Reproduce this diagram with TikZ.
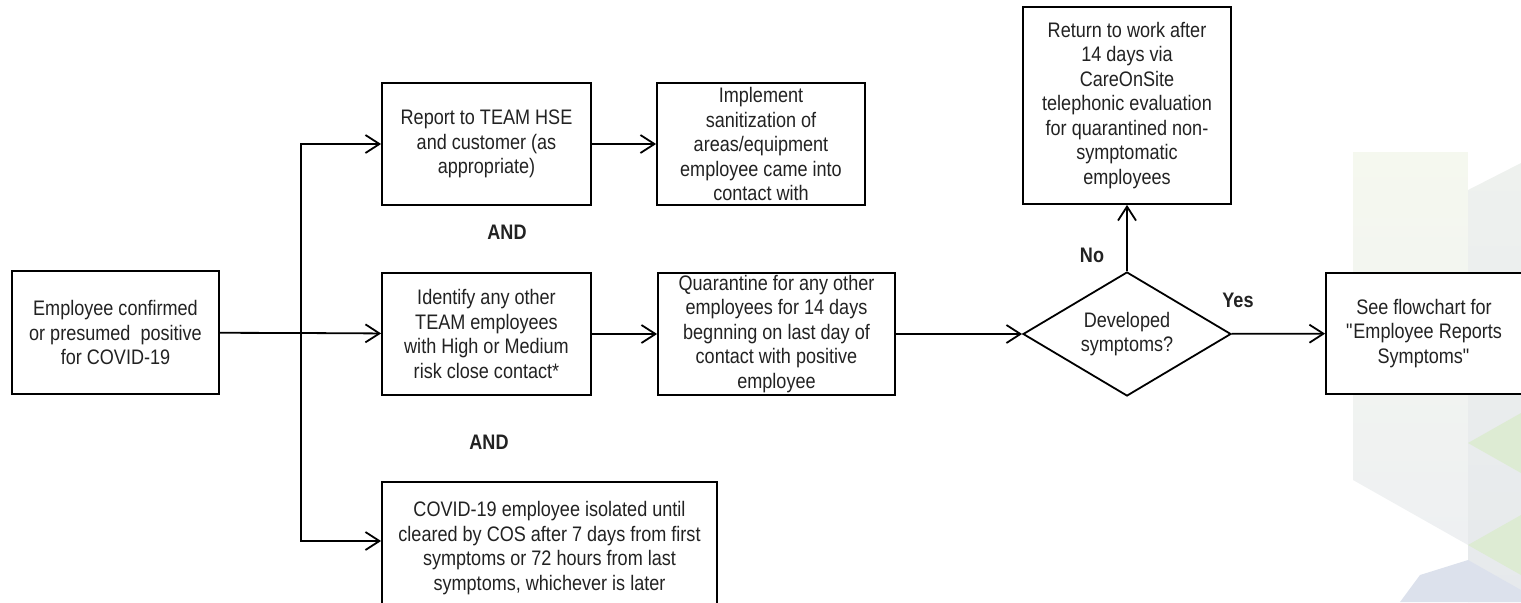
\documentclass[tikz,border=0pt]{standalone}
\usepackage{fontspec}
\setmainfont{Liberation Sans}[FakeStretch=0.86]
\usetikzlibrary{shapes.geometric,arrows.meta}
\definecolor{inkgray}{HTML}{222222}
\definecolor{cubeL}{HTML}{F5F8EF}
\definecolor{cubeLb}{HTML}{EEF0F2}
\definecolor{cubeR}{HTML}{EEF1EE}
\definecolor{cubeRb}{HTML}{E6E9EC}
\definecolor{cubeG}{HTML}{DDEBD3}
\definecolor{cubeB}{HTML}{DCE1EC}
\tikzstyle{pbox} = [draw,line width=0.9pt,fill=white,align=center,inner sep=0pt,
    text=inkgray,font=\fontsize{10.5}{12.25}\selectfont]
\tikzstyle{dbox} = [pbox,diamond,aspect=1.68,minimum width=104pt,minimum height=62pt]
\tikzstyle{flow} = [line width=0.9pt,-{Straight Barb[length=7pt,width=9pt,line width=0.9pt]}]
\tikzstyle{andlbl} = [text=inkgray,font=\fontsize{10.5}{12}\selectfont\bfseries]

\begin{document}
\begin{tikzpicture}[x=0.5pt,y=-0.5pt]
    \useasboundingbox (0,0) rectangle (1521,602);

    % faded cubes in the corner
    \shade[top color=cubeL,bottom color=cubeLb] (1353,152) -- (1468,152) -- (1468,545) -- (1353,480) -- cycle;
    \shade[top color=cubeR,bottom color=cubeRb] (1468,190) -- (1521,163) -- (1521,602) -- (1468,602) -- cycle;
    \fill[cubeG] (1468,443) -- (1521,413) -- (1521,473) -- cycle;
    \fill[cubeG] (1468,545) -- (1521,515) -- (1521,575) -- cycle;
    \fill[cubeB] (1420,575) -- (1468,560) -- (1468,602) -- (1400,602) -- cycle;
    \fill[cubeB] (1468,560) -- (1521,590) -- (1521,602) -- (1468,602) -- cycle;

	\node(pos) at (115.5,332.5) [pbox,minimum width=103.5pt,minimum height=61.5pt]
	    {Employee confirmed\\or presumed\ \ positive\\for COVID-19};
	\node(report) at (486.5,144) [pbox,minimum width=104.5pt,minimum height=61pt]
	    {Report to TEAM HSE\\and customer (as\\appropriate)};
	\node(sanit) at (761,144) [pbox,minimum width=104pt,minimum height=61pt]
	    {Implement\\sanitization of\\areas/equipment\\employee came into\\contact with};
	\node(identify) at (486.5,334) [pbox,minimum width=104.5pt,minimum height=61pt]
	    {Identify any other\\TEAM employees\\with High or Medium\\risk close contact*};
	\node(quar) at (776.5,334) [pbox,minimum width=118.5pt,minimum height=61pt]
	    {Quarantine for any other\\employees for 14 days\\begnning on last day of\\contact with positive\\employee};
	\node(covid) at (549.5,548) [pbox,minimum width=167.5pt,minimum height=66pt]
	    {COVID-19 employee isolated until\\cleared by COS after 7 days from first\\symptoms or 72 hours from last\\symptoms, whichever is later};
	\node(dev) at (1127,334) [dbox] {Developed\\symptoms?};
	\node(ret) at (1127,105.5) [pbox,minimum width=104pt,minimum height=98.5pt]
	    {Return to work after\\14 days via\\CareOnSite\\telephonic evaluation\\for quarantined non-\\symptomatic\\employees};
	\node(see) at (1424,333.5) [pbox,minimum width=98pt,minimum height=60.5pt]
	    {See flowchart for\\\textquotedbl Employee Reports\\Symptoms\textquotedbl};

	\node(and1) at (507,232) [andlbl] {AND};
	\node(and2) at (489,442) [andlbl] {AND};
	\node(no) at (1092,255) [andlbl] {No};
	\node(yes) at (1238,300) [andlbl] {Yes};

	\coordinate(split) at (301,333);
	\draw[line width=0.9pt] (pos) -- (split);
	\draw[flow] (split) |- (report);
	\draw[flow] (split) -- (identify);
	\draw[flow] (split) |- ([yshift=3.5pt]covid.west);
	\draw[flow] (report) -- (sanit);
	\draw[flow] (identify) -- (quar);
	\draw[flow] (quar) -- (dev);
	\draw[flow] (dev) -- (see);
	\draw[flow] (dev) -- (ret);
\end{tikzpicture}
\end{document}
